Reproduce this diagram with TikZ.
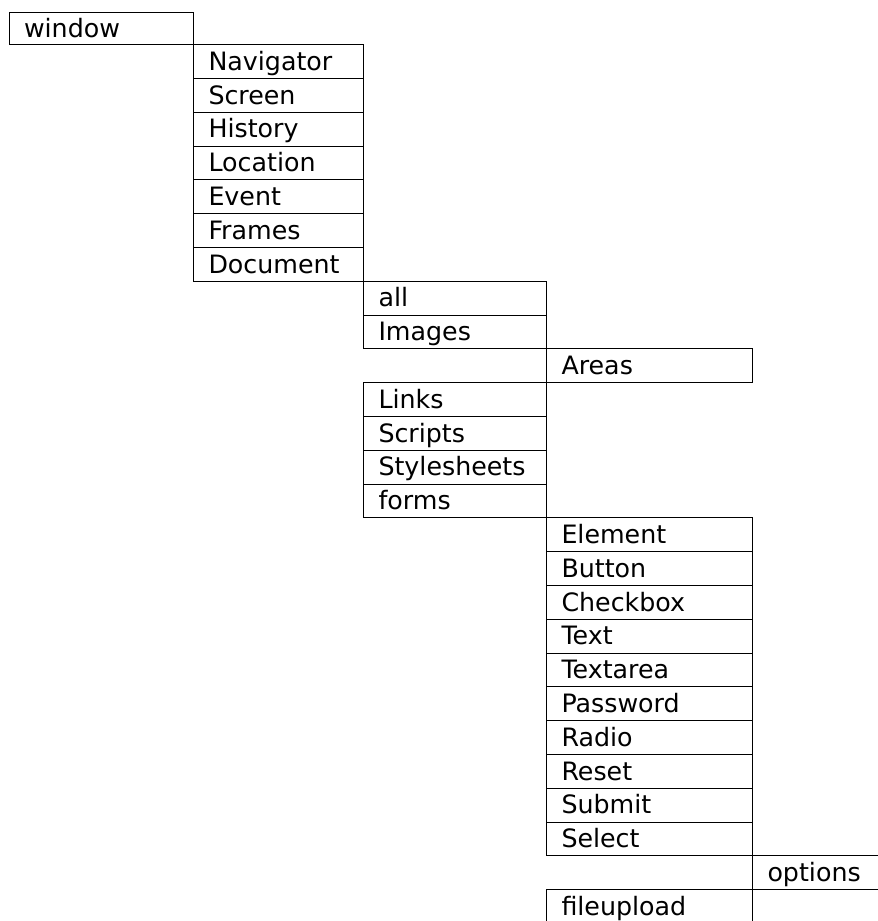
\documentclass[tikz,border=0pt]{standalone}
\usepackage{fontspec}
\setmainfont{DejaVu Sans}
\usetikzlibrary{
  positioning,  % below=0pt of x, below right=0pt of x
}
\def\myrowh{0.845cm}
\def\mypad{0.375cm}
\tikzset{
  font=\fontsize{18}{21}\selectfont,
  line width=1.9pt,
  my cell/.style={
    draw,
    rectangle,
    outer sep=0pt,
    inner xsep=\mypad,
    inner ysep=0pt,
    minimum height=\myrowh,
    text height=0.54cm,
    text depth=0.1cm,
    align=left
  },
  % one width per column
  col0/.style={my cell, text width=3.8625cm},
  col1/.style={my cell, text width=3.5cm},
  col2/.style={my cell, text width=3.825cm},
  col3/.style={my cell, text width=4.4cm},
  col4/.style={my cell, text width=2.625cm}
}
\begin{document}
\begin{tikzpicture}
\path[use as bounding box] (0,0) rectangle (21.95,-23.025);
\clip (0,0) rectangle (21.95,-23.025);
\node[col0,minimum height=0.8cm,anchor=north west] (win) at (0.225,-0.3125) {window};
% window children
\node[col1] (nav)  [below right=0pt of win] {Navigator};
\node[col1] (scr)  [below=0pt of nav]       {Screen};
\node[col1] (hist) [below=0pt of scr]       {History};
\node[col1] (loc)  [below=0pt of hist]      {Location};
\node[col1] (evt)  [below=0pt of loc]       {Event};
\node[col1] (frm)  [below=0pt of evt]       {Frames};
\node[col1] (doc)  [below=0pt of frm]       {Document};
% document children
\node[col2] (all)  [below right=0pt of doc] {all};
\node[col2] (img)  [below=0pt of all]       {Images};
\node[col3] (area) [below right=0pt of img] {Areas};
\node[col2] (lnk)  [below left=0pt of area] {Links};
\node[col2] (scp)  [below=0pt of lnk]       {Scripts};
\node[col2] (sty)  [below=0pt of scp]       {Stylesheets};
\node[col2] (form) [below=0pt of sty]       {forms};
% form children
\node[col3] (elem)  [below right=0pt of form] {Element};
\node[col3] (btn)   [below=0pt of elem]       {Button};
\node[col3] (chk)   [below=0pt of btn]        {Checkbox};
\node[col3] (txt)   [below=0pt of chk]        {Text};
\node[col3] (tarea) [below=0pt of txt]        {Textarea};
\node[col3] (pwd)   [below=0pt of tarea]      {Password};
\node[col3] (rad)   [below=0pt of pwd]        {Radio};
\node[col3] (rst)   [below=0pt of rad]        {Reset};
\node[col3] (sbm)   [below=0pt of rst]        {Submit};
\node[col3] (sel)   [below=0pt of sbm]        {Select};
\node[col4] (opt)   [below right=0pt of sel]  {options};
\node[col3] (fup)   [below left=0pt of opt]   {fileupload};
\end{tikzpicture}
\end{document}
